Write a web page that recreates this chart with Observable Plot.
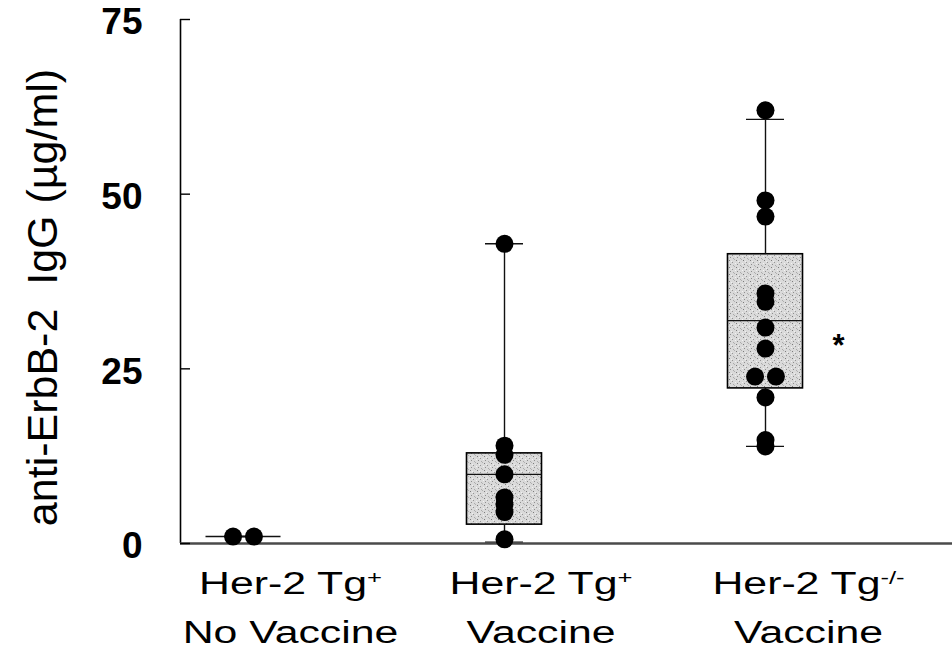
<!DOCTYPE html>
<html>
<head>
<meta charset="utf-8">
<script src="https://cdn.jsdelivr.net/npm/d3@7"></script>
<script src="https://cdn.jsdelivr.net/npm/@observablehq/plot@0.6"></script>
<style>
  html, body { margin: 0; padding: 0; background: #fff; }
  #chart svg { font-family: "Liberation Sans", Arial, Helvetica, sans-serif; background: #fff; }
</style>
</head>
<body>
<div id="chart"></div>
<script>
// ---- data ----
const groups = ["Her-2 Tg+ No Vaccine", "Her-2 Tg+ Vaccine", "Her-2 Tg-/- Vaccine"];
const groupPos = [1, 2, 3];
const labelMain = ["Her-2 Tg", "Her-2 Tg", "Her-2 Tg"];
const labelSup = ["+", "+", "-/-"];
const labelSub = ["No Vaccine", "Vaccine", "Vaccine"];
const labelPos = [1.18, 2.14, 3.165];

const whiskerLow = [1.0, 0.2, 13.9];
const q1 = [1.0, 2.7, 22.2];
const median = [1.0, 9.9, 31.9];
const q3 = [1.0, 12.9, 41.4];
const whiskerHigh = [1.0, 42.9, 60.7];

const valuesNoVaccine = [1.0, 1.0];
const valuesTgVaccine = [42.9, 14.0, 12.7, 9.9, 6.6, 5.6, 4.5, 0.6];
const valuesKoVaccine = [62.0, 49.1, 46.8, 35.8, 34.6, 30.9, 27.9, 23.9, 23.9, 20.9, 14.8, 13.9];

const yTicks = [0, 25, 50, 75];
const yLabel = "anti-ErbB-2  IgG (\u00b5g/ml)";
const sigText = ["*"];
const sigGroupPos = [3.28];
const sigValue = [28.3];

// ---- derived tables ----
const stats = groups.map((g, i) => ({
  group: g, pos: groupPos[i], low: whiskerLow[i], q1: q1[i], median: median[i], q3: q3[i], high: whiskerHigh[i]
}));
const boxHalf = 0.1437, capHalf = 0.0728, dotHalf = 0.04;

function dodge(values, pos) {
  const counts = d3.rollup(values, v => v.length, v => v);
  const seen = new Map();
  return values.map(v => {
    const n = counts.get(v), k = seen.get(v) || 0;
    seen.set(v, k + 1);
    return {x: pos + (k - (n - 1) / 2) * 2 * dotHalf, y: v};
  });
}
const points = [
  ...dodge(valuesNoVaccine, groupPos[0]),
  ...dodge(valuesTgVaccine, groupPos[1]),
  ...dodge(valuesKoVaccine, groupPos[2])
];
const labels = labelMain.map((m, i) => ({pos: labelPos[i], main: m, sup: labelSup[i], sub: labelSub[i]}));
const sig = sigText.map((t, i) => ({x: sigGroupPos[i], y: sigValue[i], text: t}));

const chart = Plot.plot({
  width: 952,
  height: 666,
  marginLeft: 180,
  marginRight: 0,
  marginTop: 19,
  marginBottom: 123,
  x: {domain: [0.7586, 3.7165], axis: null},
  y: {domain: [0, 75], axis: null},
  marks: [
    Plot.rect(stats, {x1: d => d.pos - boxHalf, x2: d => d.pos + boxHalf, y1: "q1", y2: "q3",
      fill: "url(#stipple)", stroke: "#000", strokeWidth: 1.6}),
    Plot.ruleY(stats, {y: "median", x1: d => d.pos - boxHalf, x2: d => d.pos + boxHalf, stroke: "#111", strokeWidth: 1.3}),
    Plot.ruleX(stats, {x: "pos", y1: "q3", y2: "high", stroke: "#111", strokeWidth: 1.4}),
    Plot.ruleX(stats, {x: "pos", y1: "low", y2: "q1", stroke: "#111", strokeWidth: 1.4}),
    Plot.ruleY(stats, {y: "high", x1: d => d.pos - capHalf, x2: d => d.pos + capHalf, stroke: "#111", strokeWidth: 1.4}),
    Plot.ruleY(stats, {y: "low", x1: d => d.pos - capHalf, x2: d => d.pos + capHalf, stroke: "#111", strokeWidth: 1.4}),
    Plot.ruleX([0.7586], {stroke: "#000", strokeWidth: 1.6}),
    Plot.ruleY([0], {stroke: "#4a4a4a", strokeWidth: 2.5}),
    Plot.dot(points, {x: "x", y: "y", r: 9, fill: "#000", stroke: "none"}),
    // inward tick marks
    Plot.axisY(yTicks, {anchor: "left", tickSize: -10, tickFormat: () => "", label: null,
      stroke: "#000", strokeWidth: 1.4}),
    // bold tick labels
    Plot.axisY(yTicks, {anchor: "left", tickSize: 0, tickPadding: 38, fontSize: 37, fontWeight: "bold", dy: 3,
      tickFormat: d => String(d), label: null, color: "#000"}),
    Plot.text([yLabel], {text: d => d, frameAnchor: "left", rotate: -90, dx: -124, dy: 16,
      textAnchor: "middle", lineAnchor: "bottom", fontSize: 43, fill: "#000"}),
    Plot.text(labels, {x: "pos", frameAnchor: "bottom", text: d => d.main + d.sup + "\n" + d.sub,
      dy: 16, lineAnchor: "top", lineHeight: 1.58, fontSize: 31, fill: "#000", textAnchor: "middle"}),
    Plot.text(sig, {x: "x", y: "y", text: "text", fontSize: 31, fontWeight: "bold", fill: "#000"})
  ]
});

// stipple pattern for the boxes
const ns = "http://www.w3.org/2000/svg";
const defs = document.createElementNS(ns, "defs");
const pat = document.createElementNS(ns, "pattern");
pat.setAttribute("id", "stipple");
pat.setAttribute("width", 7);
pat.setAttribute("height", 7);
pat.setAttribute("patternUnits", "userSpaceOnUse");
const bg = document.createElementNS(ns, "rect");
bg.setAttribute("width", 7); bg.setAttribute("height", 7); bg.setAttribute("fill", "#dadada");
pat.appendChild(bg);
[[1, 1, "#7c7c7c"], [4, 3, "#959595"], [2, 5, "#8e8e8e"], [5, 6, "#aaaaaa"], [6, 0, "#b0b0b0"], [3, 2, "#efefef"], [0, 4, "#f2f2f2"]].forEach(([x, y, c]) => {
  const r = document.createElementNS(ns, "rect");
  r.setAttribute("x", x); r.setAttribute("y", y); r.setAttribute("width", 1); r.setAttribute("height", 1); r.setAttribute("fill", c);
  pat.appendChild(r);
});
defs.appendChild(pat);
chart.insertBefore(defs, chart.firstChild);

// superscripts and horizontal stretch of the category labels
const labelTexts = [...chart.querySelectorAll("text")].filter(t => /Vaccine/.test(t.textContent));
labelTexts.forEach((t, i) => {
  const d = labels[i];
  if (!d) return;
  const tspans = t.querySelectorAll("tspan");
  const first = tspans.length ? tspans[0] : null;
  if (first) {
    first.textContent = d.main;
    const s = document.createElementNS(ns, "tspan");
    s.setAttribute("baseline-shift", "super");
    s.setAttribute("font-size", "0.6em");
    s.textContent = d.sup;
    first.appendChild(s);
  }
  const tr = t.getAttribute("transform");
  if (tr) t.setAttribute("transform", tr + " scale(1.38,1)");
});

document.getElementById("chart").appendChild(chart);
</script>
</body>
</html>
